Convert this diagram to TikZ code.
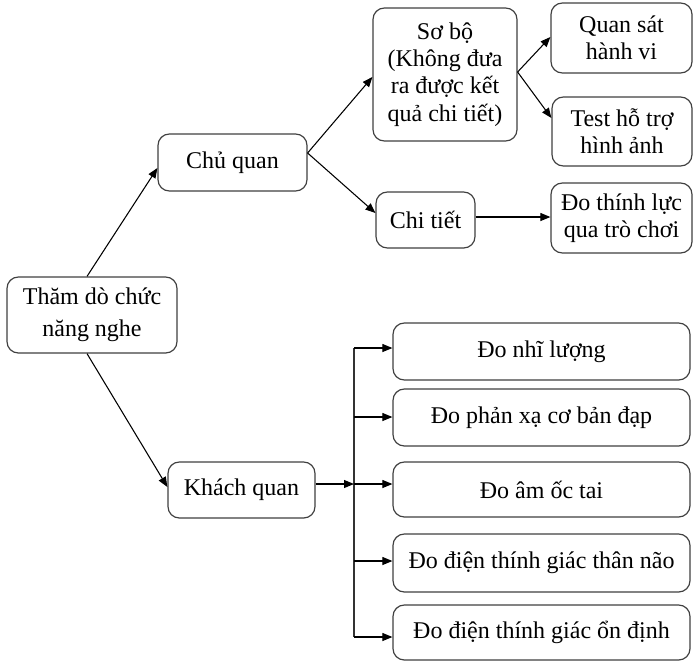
\documentclass[tikz,border=0pt]{standalone}
\usepackage{fontspec}
\setmainfont{Liberation Serif}
\usetikzlibrary{arrows.meta,calc}

\tikzset{
  box/.style={draw=black!75, line width=0.9pt, rounded corners=8.5pt, fill=white,
    inner sep=0pt, align=center, text=black,
    font=\fontsize{18}{20.5}\selectfont},
  arr/.style={draw=black, line width=0.8pt, -{Triangle[length=7.5pt,width=6pt]}},
  bus/.style={draw=black!80, line width=0.9pt}
}

\begin{document}
\begin{tikzpicture}[x=0.75pt, y=-0.75pt]
  \useasboundingbox (0,0) rectangle (693,661);

  % root and the two main branches
  \node[box, minimum width=127.5pt, minimum height=57pt,
        font=\fontsize{18}{24}\selectfont] (root) at (92,315) {Thăm dò chức\\năng nghe};
  \node[box, minimum width=111.75pt, minimum height=42.75pt] (chu) at (232.5,162.5) {Chủ quan};
  \node[box, minimum width=110.25pt, minimum height=42pt] (khach) at (241.5,490) {Khách quan};

  % subjective branch
  \node[box, minimum width=108pt, minimum height=99.75pt] (sobo) at (445,74.5)
       {Sơ bộ\\(Không đưa\\ra được kết\\quả chi tiết)};
  \node[box, minimum width=74.25pt, minimum height=42pt] (chitiet) at (425.5,220) {Chi tiết};
  \node[box, minimum width=105.75pt, minimum height=52.5pt] (quansat) at (621.5,38) {Quan sát\\hành vi};
  \node[box, minimum width=105pt, minimum height=51.75pt] (test) at (622,131.5) {Test hỗ trợ\\hình ảnh};
  \node[box, minimum width=105.75pt, minimum height=52.5pt] (dothinh) at (621.5,218) {Đo thính lực\\qua trò chơi};

  % objective branch
  \node[box, minimum width=222.75pt, minimum height=42.75pt] (r1) at (541.5,351.5) {Đo nhĩ lượng};
  \node[box, minimum width=222.75pt, minimum height=42.75pt] (r2) at (541.5,417.5) {Đo phản xạ cơ bản đạp};
  \node[box, minimum width=222.75pt, minimum height=41.25pt] (r3) at (541.5,489.5) {Đo âm ốc tai};
  \node[box, minimum width=222.75pt, minimum height=43.5pt] (r4) at (541.5,563) {Đo điện thính giác thân não};
  \node[box, minimum width=222.75pt, minimum height=41.25pt] (r5) at (541.5,632.5) {Đo điện thính giác ổn định};

  % connectors from the root
  \draw[arr] ($(root.north)+(-5,0)$) -- ($(chu.west)+(0,5.5)$);
  \draw[arr] ($(root.south)+(-5,0)$) -- ($(khach.west)+(0,-3)$);

  % subjective connectors
  \coordinate (chuout) at ($(chu.east)+(0,-9.5)$);
  \draw[arr] (chuout) -- ($(sobo.west)+(0,2.5)$);
  \draw[arr] (chuout) -- ($(chitiet.west)+(0,-7)$);
  \coordinate (soboout) at ($(sobo.east)+(0,-2.5)$);
  \draw[arr] (soboout) -- ($(quansat.west)+(0,-1)$);
  \draw[arr] (soboout) -- ($(test.west)+(0,-13.5)$);
  \coordinate (ctout) at ($(chitiet.east)+(0,-3)$);
  \draw[arr] (ctout) -- (dothinh.west |- ctout);

  % objective bus
  \coordinate (kout) at ($(khach.east)+(0,-6)$);
  \coordinate (bus) at (354,484);
  \coordinate (bustop) at (354,348);
  \coordinate (busbot) at (354,637);
  \draw[bus] (bustop) -- (busbot);
  \draw[arr] (kout) -- (bus);
  \draw[arr] (bustop) -- (r1.west |- bustop);
  \draw[arr] (354,417) -- (r2.west |- 0,417);
  \draw[arr] (bus) -- (r3.west |- bus);
  \draw[arr] (354,561) -- (r4.west |- 0,561);
  \draw[arr] (busbot) -- (r5.west |- busbot);
\end{tikzpicture}
\end{document}
